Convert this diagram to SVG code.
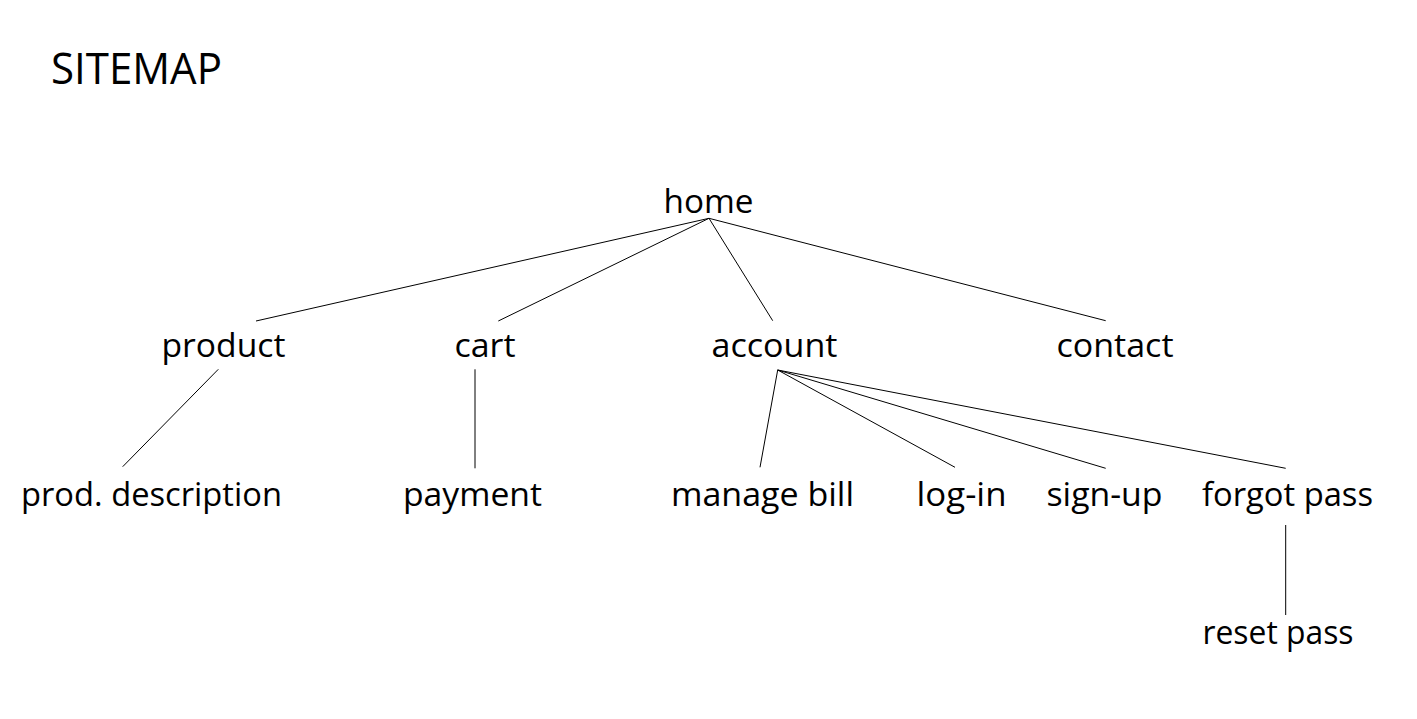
<svg xmlns="http://www.w3.org/2000/svg" width="1417" height="719" viewBox="0 0 1417 719">
<style>
  .t { font-family: "Open Sans", "Noto Sans", "Liberation Sans", sans-serif; font-size: 32px; fill: #000; }
  .title { font-family: "Open Sans", "Noto Sans", "Liberation Sans", sans-serif; font-size: 43px; fill: #000; }
  .c line { stroke: #000; stroke-width: 1; fill: none; }
</style>
<rect x="0" y="0" width="1417" height="719" fill="#fff"/>
<text class="title" x="51" y="84" textLength="171" lengthAdjust="spacingAndGlyphs">SITEMAP</text>
<g id="connectors" class="c">
  <line x1="709" y1="218.3" x2="256" y2="321"/>
  <line x1="709" y1="218.3" x2="498.3" y2="321"/>
  <line x1="709" y1="218.3" x2="772.7" y2="320.7"/>
  <line x1="709" y1="218.3" x2="1105.7" y2="320.7"/>
  <line x1="218.3" y1="369.3" x2="122.7" y2="466.7"/>
  <line x1="475" y1="369.3" x2="475" y2="468.3"/>
  <line x1="777.7" y1="370" x2="760" y2="467.3"/>
  <line x1="777.7" y1="370" x2="955" y2="467.3"/>
  <line x1="777.7" y1="370" x2="1105.7" y2="468.3"/>
  <line x1="777.7" y1="370" x2="1285.7" y2="468.3"/>
  <line x1="1285.7" y1="525" x2="1285.7" y2="615"/>
</g>
<g id="home"><text class="t" x="663.5" y="212.5" textLength="90" lengthAdjust="spacingAndGlyphs">home</text></g>
<g id="product"><text class="t" x="161.5" y="357" textLength="124" lengthAdjust="spacingAndGlyphs">product</text></g>
<g id="cart"><text class="t" x="454.5" y="357" textLength="61" lengthAdjust="spacingAndGlyphs">cart</text></g>
<g id="account"><text class="t" x="711.5" y="357" textLength="126" lengthAdjust="spacingAndGlyphs">account</text></g>
<g id="contact"><text class="t" x="1056.5" y="357" textLength="117" lengthAdjust="spacingAndGlyphs">contact</text></g>
<g id="prod-description"><text class="t" x="21" y="506" textLength="261" lengthAdjust="spacingAndGlyphs">prod. description</text></g>
<g id="payment"><text class="t" x="403" y="506" textLength="139" lengthAdjust="spacingAndGlyphs">payment</text></g>
<g id="manage-bill"><text class="t" x="671" y="506" textLength="183" lengthAdjust="spacingAndGlyphs">manage bill</text></g>
<g id="log-in"><text class="t" x="916.5" y="506" textLength="90" lengthAdjust="spacingAndGlyphs">log-in</text></g>
<g id="sign-up"><text class="t" x="1046.5" y="506" textLength="116" lengthAdjust="spacingAndGlyphs">sign-up</text></g>
<g id="forgot-pass"><text class="t" x="1202" y="506" textLength="171" lengthAdjust="spacingAndGlyphs">forgot pass</text></g>
<g id="reset-pass"><text class="t" x="1202.5" y="643.5" textLength="151" lengthAdjust="spacingAndGlyphs">reset pass</text></g>
</svg>
